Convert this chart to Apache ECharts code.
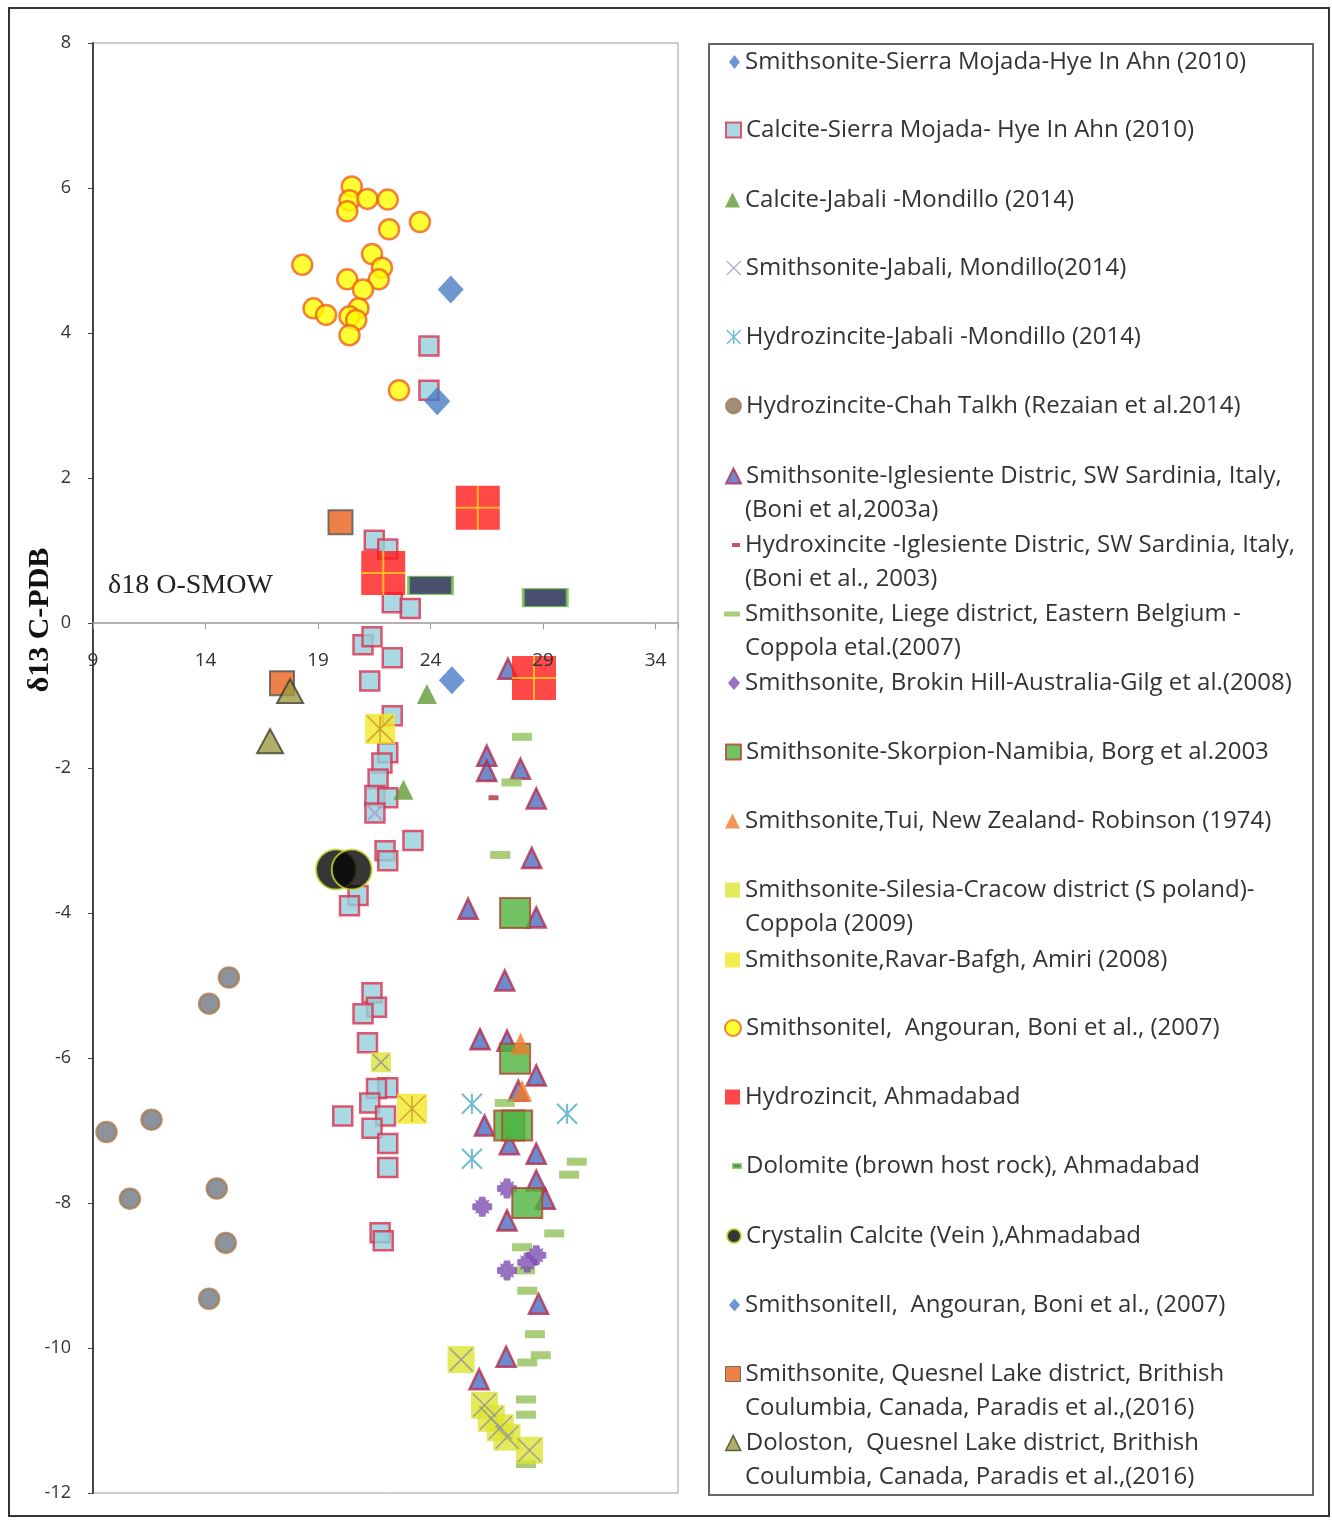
<!DOCTYPE html>
<html><head><meta charset="utf-8">
<script src="https://cdn.jsdelivr.net/npm/echarts@6/dist/echarts.min.js"></script>
<style>html,body{margin:0;padding:0;background:#fff}#c{width:1332px;height:1520px}</style>
</head><body><div id="c"></div>
<script>
// ---------- data: [δ18O-SMOW, δ13C-PDB] ----------
const sierraSmithsonite = [[24.9,4.6],[24.3,3.06]];
const sierraCalcite = [[23.93,3.82],[23.93,3.21],[21.5,1.14],[22.1,1.02],[22.3,0.28],[23.1,0.2],[21.0,-0.3],[21.4,-0.19],[22.3,-0.48],[21.3,-0.8],[22.3,-1.28],[22.1,-1.79],[21.84,-1.93],[21.67,-2.15],[21.53,-2.38],[22.1,-2.41],[21.53,-2.62],[23.22,-3.0],[21.98,-3.14],[22.1,-3.28],[20.78,-3.76],[20.4,-3.9],[21.4,-5.1],[21.6,-5.3],[21.0,-5.39],[21.2,-5.79],[22.1,-6.41],[21.6,-6.42],[21.3,-6.62],[20.1,-6.8],[22.0,-6.8],[21.4,-6.97],[22.1,-7.18],[22.1,-7.51],[21.76,-8.41],[21.9,-8.52]];
const jabaliCalcite = [[23.84,-0.98],[22.8,-2.3]];
const jabaliSmithsonite = [[21.53,-2.62]];
const jabaliHydrozincite = [[25.84,-6.63],[30.07,-6.77],[25.84,-7.39]];
const chahTalkh = [[15.04,-4.89],[14.16,-5.25],[11.6,-6.85],[9.6,-7.02],[10.64,-7.94],[14.5,-7.8],[14.9,-8.55],[14.16,-9.32]];
const iglesienteSmithsonite = [[27.44,-0.63],[26.5,-1.83],[26.5,-2.04],[28.0,-2.01],[28.7,-2.42],[28.5,-3.24],[25.67,-3.94],[28.7,-4.06],[27.3,-4.93],[26.2,-5.74],[27.4,-5.76],[28.7,-6.24],[27.9,-6.45],[26.4,-6.93],[27.5,-7.19],[28.7,-7.32],[28.7,-7.69],[29.1,-7.94],[27.4,-8.24],[28.8,-9.39],[27.36,-10.12],[26.16,-10.43]];
const iglesienteHydrozincite = [[26.8,-2.41]];
const liegeSmithsonite = [[28.07,-1.57],[27.6,-2.2],[27.1,-3.2],[27.3,-6.62],[30.5,-7.43],[30.16,-7.61],[29.5,-8.42],[28.07,-8.61],[28.2,-8.93],[28.3,-9.21],[28.64,-9.81],[28.9,-10.1],[28.3,-10.2],[28.24,-10.71],[28.24,-10.92],[28.24,-11.6]];
const brokenHill = [[27.4,-7.8],[26.3,-8.05],[28.7,-8.72],[28.3,-8.82],[27.4,-8.93]];
const skorpion = [[27.76,-4.0],[27.76,-6.01],[27.5,-6.93],[27.85,-6.93],[28.3,-8.0]];
const tui = [[28.0,-5.8],[28.07,-6.45]];
const silesia = [[21.8,-6.06],[25.36,-10.16],[26.4,-10.79],[26.7,-10.97],[27.1,-11.1],[27.4,-11.23],[28.4,-11.41]];
const ravar = [[21.76,-1.46],[23.18,-6.7]];
const angouranI = [[20.5,6.02],[20.4,5.83],[21.2,5.85],[22.1,5.84],[20.3,5.68],[23.53,5.53],[22.16,5.43],[21.4,5.09],[18.3,4.94],[21.84,4.9],[20.3,4.74],[21.7,4.74],[21.0,4.6],[18.8,4.34],[19.36,4.25],[20.8,4.34],[20.4,4.23],[20.7,4.18],[20.4,3.97],[22.6,3.21]];
const ahmadabadHydrozincit = [[26.1,1.59],[21.9,0.69],[28.6,-0.76]];
const ahmadabadDolomite = [[24.0,0.52],[29.1,0.35]];
const crystalinCalcite = [[19.8,-3.4],[20.5,-3.4]];
const angouranII = [[24.95,-0.79]];
const quesnelSmithsonite = [[20.0,1.39],[17.4,-0.83]];
const quesnelDoloston = [[17.76,-0.94],[16.87,-1.63]];

const xTicks = {min: 9, max: 35, step: 5};
const yTicks = {min: -12, max: 8, step: 2};

const names = [
  "Smithsonite-Sierra Mojada-Hye In Ahn (2010)",
  "Calcite-Sierra Mojada- Hye In Ahn (2010)",
  "Calcite-Jabali -Mondillo (2014)",
  "Smithsonite-Jabali, Mondillo(2014)",
  "Hydrozincite-Jabali -Mondillo (2014)",
  "Hydrozincite-Chah Talkh (Rezaian et al.2014)",
  "Smithsonite-Iglesiente Distric, SW Sardinia, Italy,",
  "Hydroxincite -Iglesiente Distric, SW Sardinia, Italy,",
  "Smithsonite, Liege district, Eastern Belgium -",
  "Smithsonite, Brokin Hill-Australia-Gilg et al.(2008)",
  "Smithsonite-Skorpion-Namibia, Borg et al.2003",
  "Smithsonite,Tui, New Zealand- Robinson (1974)",
  "Smithsonite-Silesia-Cracow district (S poland)-",
  "Smithsonite,Ravar-Bafgh, Amiri (2008)",
  "SmithsoniteI,  Angouran, Boni et al., (2007)",
  "Hydrozincit, Ahmadabad",
  "Dolomite (brown host rock), Ahmadabad",
  "Crystalin Calcite (Vein ),Ahmadabad",
  "SmithsoniteII,  Angouran, Boni et al., (2007)",
  "Smithsonite, Quesnel Lake district, Brithish",
  "Doloston,  Quesnel Lake district, Brithish"
];
const secondLines = {
  6: "(Boni et al,2003a)",
  7: "(Boni et al., 2003)",
  8: "Coppola etal.(2007)",
  12: "Coppola (2009)",
  19: "Coulumbia, Canada, Paradis et al.,(2016)",
  20: "Coulumbia, Canada, Paradis et al.,(2016)"
};

// ---------- styles ----------
const FONT = 'Open Sans';
const X_PATH = 'path://M0,0L10,10M10,0L0,10';
const AST_PATH = 'path://M0,0L10,10M10,0L0,10M5,0L5,10';
const PLUS_PATH = 'path://M5,0L5,10M0,5L10,5';
const BLOB_PATH = 'path://M3.5,0H6.5L7,2L8.6,1.4L8,3L10,3.5V6.5L8,7L8.6,8.6L7,8L6.5,10H3.5L3,8L1.4,8.6L2,7L0,6.5V3.5L2,3L1.4,1.4L3,2Z';

const st = {
  sierraSm: {color:'#4a7cc4'},
  calcite: {color:'#95cfdc', borderColor:'#dc2f4e', borderWidth:2.5},
  jabCal: {color:'#5f9a33'},
  jabSm: {color:'transparent', borderColor:'#a99bd0', borderWidth:2},
  jabHz: {color:'transparent', borderColor:'#4bacc6', borderWidth:2},
  chah: {color:'#6f7884', borderColor:'#a37a52', borderWidth:2.5},
  igSm: {color:'#4b6ec2', borderColor:'#b52c4c', borderWidth:2.5},
  igHz: {color:'#b02d3f'},
  liege: {color:'#92c05a'},
  broken: {color:'#7d4fb0'},
  skorp: {color:'#4cb33c', borderColor:'#b5402e', borderWidth:2},
  tui: {color:'#f07c2d'},
  silesia: {color:'#dde532'},
  silesiaX: {color:'transparent', borderColor:'#8f8ca8', borderWidth:1.5},
  ravar: {color:'#f3e723'},
  ravarX: {color:'transparent', borderColor:'#c8902a', borderWidth:1.5},
  angI: {color:'#ffff00', borderColor:'#f0601e', borderWidth:2.5},
  hz: {color:'#ff1a1a'},
  hzPlus: {color:'transparent', borderColor:'#ffd21f', borderWidth:2},
  dolo: {color:'#1a2448', borderColor:'#78c450', borderWidth:2},
  cryst: {color:'#050505', borderColor:'#c9d832', borderWidth:2},
  quesSm: {color:'#e8621c', borderColor:'#555', borderWidth:2},
  quesDo: {color:'#9c9a42', borderColor:'#3d3d2a', borderWidth:2}
};

function sc(name, data, symbol, size, itemStyle) {
  return {type:'scatter', name, data, symbol, symbolSize:size, itemStyle,
          silent:true, emphasis:{disabled:true}, animation:false};
}

const series = [
  sc(names[5], chahTalkh, 'circle', 20, st.chah),
  sc(names[1], sierraCalcite, 'rect', 19, st.calcite),
  sc(names[3], jabaliSmithsonite, X_PATH, 14, st.jabSm),
  sc(names[2], jabaliCalcite, 'triangle', [20,20], st.jabCal),
  sc(names[6], iglesienteSmithsonite, 'triangle', [19,20], st.igSm),
  sc(names[7], iglesienteHydrozincite, 'rect', [10,5], st.igHz),
  sc(names[8], liegeSmithsonite, 'rect', [20,8], st.liege),
  sc(names[9], brokenHill, BLOB_PATH, 20, st.broken),
  sc(names[10], skorpion, 'rect', 30, st.skorp),
  sc(names[11], tui, 'triangle', [20,22], st.tui),
  {...sc(names[12], silesia, 'rect', 26, st.silesia), symbolSize:(v,p)=>p.dataIndex===0?20:27},
  {...sc('silesia-x', silesia, X_PATH, 22, st.silesiaX), symbolSize:(v,p)=>p.dataIndex===0?16:23},
  sc(names[13], ravar, 'rect', 30, st.ravar),
  sc('ravar-x', ravar, AST_PATH, 26, st.ravarX),
  sc(names[14], angouranI, 'circle', 20, st.angI),
  sc(names[16], ahmadabadDolomite, 'rect', [44,18], st.dolo),
  sc(names[15], ahmadabadHydrozincit, 'rect', 44, st.hz),
  sc('hz-plus', ahmadabadHydrozincit, PLUS_PATH, 44, st.hzPlus),
  sc(names[17], crystalinCalcite, 'circle', 40, st.cryst),
  sc(names[0], sierraSmithsonite, 'diamond', [26,28], st.sierraSm),
  sc(names[18], angouranII, 'diamond', [26,28], st.sierraSm),
  sc(names[19], quesnelSmithsonite, 'rect', 24, st.quesSm),
  sc(names[20], quesnelDoloston, 'triangle', [26,24], st.quesDo),
  sc(names[4], jabaliHydrozincite, AST_PATH, 20, st.jabHz)
];

const legendIcons = [
  ['diamond', 11, 14, st.sierraSm],
  ['rect', 15, 15, {color:'#95cfdc', borderColor:'#dc2f4e', borderWidth:2}],
  ['triangle', 15, 15, st.jabCal],
  [X_PATH, 14, 14, {color:'transparent', borderColor:'#a99bd0', borderWidth:1.5}],
  [AST_PATH, 14, 14, {color:'transparent', borderColor:'#4bacc6', borderWidth:1.5}],
  ['circle', 15, 15, {color:'#8a7258'}],
  ['triangle', 15, 15, {color:'#4b6ec2', borderColor:'#b52c4c', borderWidth:2}],
  ['rect', 8, 4, st.igHz],
  ['rect', 16, 5, st.liege],
  ['diamond', 12, 14, st.broken],
  ['rect', 15, 15, {color:'#4cb33c', borderColor:'#b5402e', borderWidth:2}],
  ['triangle', 15, 15, st.tui],
  ['rect', 15, 15, st.silesia],
  ['rect', 15, 15, st.ravar],
  ['circle', 16, 16, {color:'#ffff00', borderColor:'#f0601e', borderWidth:2}],
  ['rect', 15, 15, st.hz],
  ['rect', 8, 4, {color:'#2d6a2d'}],
  ['circle', 14, 14, {color:'#050505', borderColor:'#c9d832', borderWidth:2}],
  ['diamond', 11, 13, st.sierraSm],
  ['rect', 15, 15, {color:'#e8621c', borderColor:'#555', borderWidth:1}],
  ['triangle', 15, 15, {color:'#9c9a42', borderColor:'#3d3d2a', borderWidth:1.5}]
];
const legendY = [62,130,200,268,337,406,476,545,614,683,752,821,890,960,1028,1097,1166,1236,1305,1374,1443];
const TEXT_X = 745, FS = 24, LH = 28;

const legends = names.map((n, i) => {
  const [icon, w, h, style] = legendIcons[i];
  return {
    left: TEXT_X - 5 - w, top: legendY[i] - LH/2, padding: 0, itemGap: 0,
    itemWidth: w, itemHeight: h, selectedMode: false,
    data: [{name: n, icon: icon, itemStyle: style}],
    textStyle: {fontFamily: FONT, fontSize: FS, color: '#333', lineHeight: LH}
  };
});

const GRID = {left: 93, top: 43, width: 585, height: 1450};
const zeroOffset = GRID.height * (0 - yTicks.min) / (yTicks.max - yTicks.min);

const graphics = [
  {type:'rect', shape:{x:9, y:8, width:1320, height:1508}, style:{fill:'none', stroke:'#333', lineWidth:2}, z:-1},
  {type:'rect', shape:{x:709, y:44, width:604, height:1451}, style:{fill:'none', stroke:'#666', lineWidth:2}},
  {type:'text', left:108, top:572, style:{text:'δ18 O-SMOW', font:'28px "Liberation Serif"', fill:'#222'}, z:20},
  {type:'text', x:40, y:620, rotation: Math.PI/2, z:20,
   style:{text:'δ13 C-PDB', font:'bold 30px "Liberation Serif"', fill:'#111', align:'center', verticalAlign:'middle'}}
];
Object.keys(secondLines).forEach(k => {
  graphics.push({type:'text', left: TEXT_X, top: legendY[k] + 34 - LH/2,
    style:{text: secondLines[k], fontFamily: FONT, fontSize: FS, lineHeight: LH, fill:'#333'}});
});

const chart = echarts.init(document.getElementById('c'), null, {renderer:'canvas'});
chart.setOption({
  animation: false,
  backgroundColor: '#fff',
  grid: Object.assign({show: true, borderColor: '#999', borderWidth: 1, containLabel: false, outerBoundsMode: 'none'}, GRID),
  xAxis: {
    type: 'value', min: xTicks.min, max: xTicks.max, interval: xTicks.step, z: 10,
    position: 'bottom', offset: -zeroOffset,
    axisLine: {onZero: false, lineStyle: {color: '#999', width: 1.5}},
    axisTick: {show: true, length: 6, lineStyle: {color: '#999'}},
    splitLine: {show: false},
    axisLabel: {margin: 28, fontFamily: FONT, fontSize: 19, color: '#333',
      formatter: v => ((v - xTicks.min) % xTicks.step === 0 && v < xTicks.max) ? String(v) : ''}
  },
  yAxis: {
    type: 'value', min: yTicks.min, max: yTicks.max, interval: yTicks.step,
    axisLine: {show: true, onZero: false, lineStyle: {color: '#444', width: 2}},
    axisTick: {show: true, length: 5, lineStyle: {color: '#444'}},
    splitLine: {show: false},
    axisLabel: {margin: 22, fontFamily: FONT, fontSize: 18, color: '#333'}
  },
  legend: legends,
  graphic: graphics,
  series: series
});
</script></body></html>
